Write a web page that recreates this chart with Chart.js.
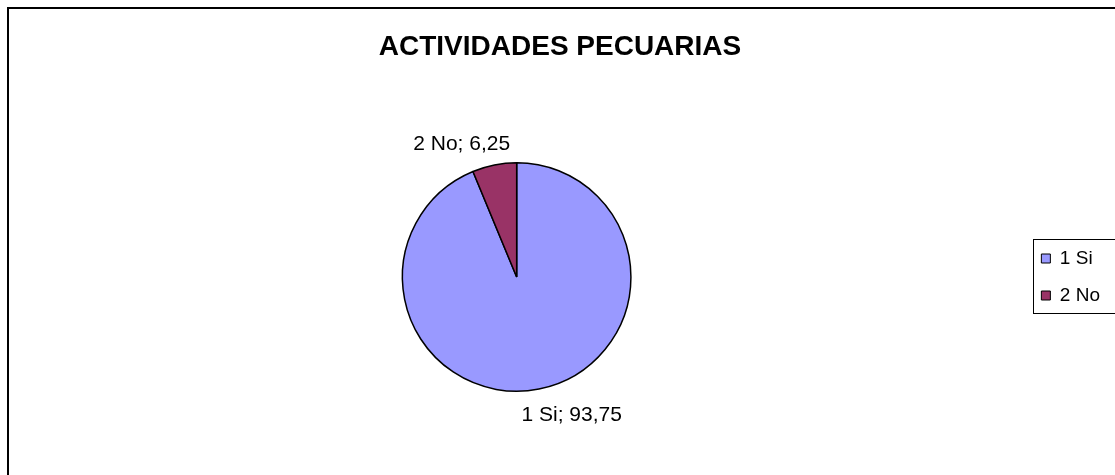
<!DOCTYPE html>
<html>
<head>
<meta charset="utf-8">
<script src="https://cdn.jsdelivr.net/npm/chart.js@4"></script>
<style>
    html, body { margin: 0; padding: 0; background: #fff; overflow: hidden; }
    #wrap { position: relative; width: 1115px; height: 475px; }
    #frame { position: absolute; left: 7px; top: 7px; width: 1200px; height: 600px; border: 2px solid #000; }
    canvas { position: absolute; left: 0; top: 0; }
</style>
</head>
<body>
<div id="wrap">
    <div id="frame"></div>
    <canvas id="pieChart" width="1115" height="475"></canvas>
</div>
<script>
// Datos del gráfico
const categorias = ['1 Si', '2 No'];
const porcentajes = [93.75, 6.25];
const colores = ['#9999FF', '#993366'];

const FONT = "'Liberation Sans', Arial, sans-serif";

// Etiquetas fuera del pastel: "categoría; valor"
const etiquetasPlugin = {
    id: 'etiquetas',
    afterDatasetsDraw(chart) {
        const ctx = chart.ctx;
        const meta = chart.getDatasetMeta(0);
        ctx.save();
        ctx.font = '21px ' + FONT;
        ctx.fillStyle = '#000';
        ctx.textAlign = 'center';
        ctx.textBaseline = 'middle';
        meta.data.forEach((arc, i) => {
            const mid = (arc.startAngle + arc.endAngle) / 2;
            const dx = Math.cos(mid), dy = Math.sin(mid);
            const r = arc.outerRadius + 24;
            const x = arc.x + dx * r + Math.sign(dx) * 28;
            const y = arc.y + dy * r + 3;
            const txt = categorias[i] + '; ' + porcentajes[i].toLocaleString('es-ES');
            ctx.fillText(txt, x, y);
        });
        ctx.restore();
    }
};

// Marco alrededor de la leyenda
const marcoLeyenda = {
    id: 'marcoLeyenda',
    afterDraw(chart) {
        const boxes = chart.legend.legendHitBoxes;
        if (!boxes || !boxes.length) return;
        const left = Math.min(...boxes.map(b => b.left)) - 8;
        const top = Math.min(...boxes.map(b => b.top)) - 10;
        const bottom = Math.max(...boxes.map(b => b.top + b.height)) + 8;
        const ctx = chart.ctx;
        ctx.save();
        ctx.strokeStyle = '#000';
        ctx.lineWidth = 1;
        ctx.strokeRect(Math.round(left) + 0.5, Math.round(top) + 0.5, chart.width + 10, Math.round(bottom - top));
        ctx.restore();
    }
};

new Chart(document.getElementById('pieChart'), {
    type: 'pie',
    data: {
        labels: categorias,
        datasets: [{
            data: porcentajes,
            backgroundColor: colores,
            borderColor: '#000',
            borderWidth: 1.5
        }]
    },
    options: {
        responsive: false,
        animation: false,
        layout: { padding: { left: 10, top: 0, bottom: 83, right: 5 } },
        plugins: {
            title: {
                display: true,
                text: 'ACTIVIDADES PECUARIAS',
                color: '#000',
                font: { family: FONT, size: 28, weight: 'bold' },
                padding: { top: 30, bottom: 98.4 }
            },
            legend: {
                position: 'right',
                fullSize: false,
                labels: {
                    color: '#000',
                    font: { family: FONT, size: 19 },
                    boxWidth: 9,
                    boxHeight: 9,
                    padding: 18,
                    generateLabels(chart) {
                        return categorias.map((c, i) => ({
                            text: c,
                            fillStyle: colores[i],
                            strokeStyle: '#000',
                            lineWidth: 1,
                            index: i
                        }));
                    }
                }
            },
            tooltip: { enabled: false }
        }
    },
    plugins: [etiquetasPlugin, marcoLeyenda]
});
</script>
</body>
</html>
